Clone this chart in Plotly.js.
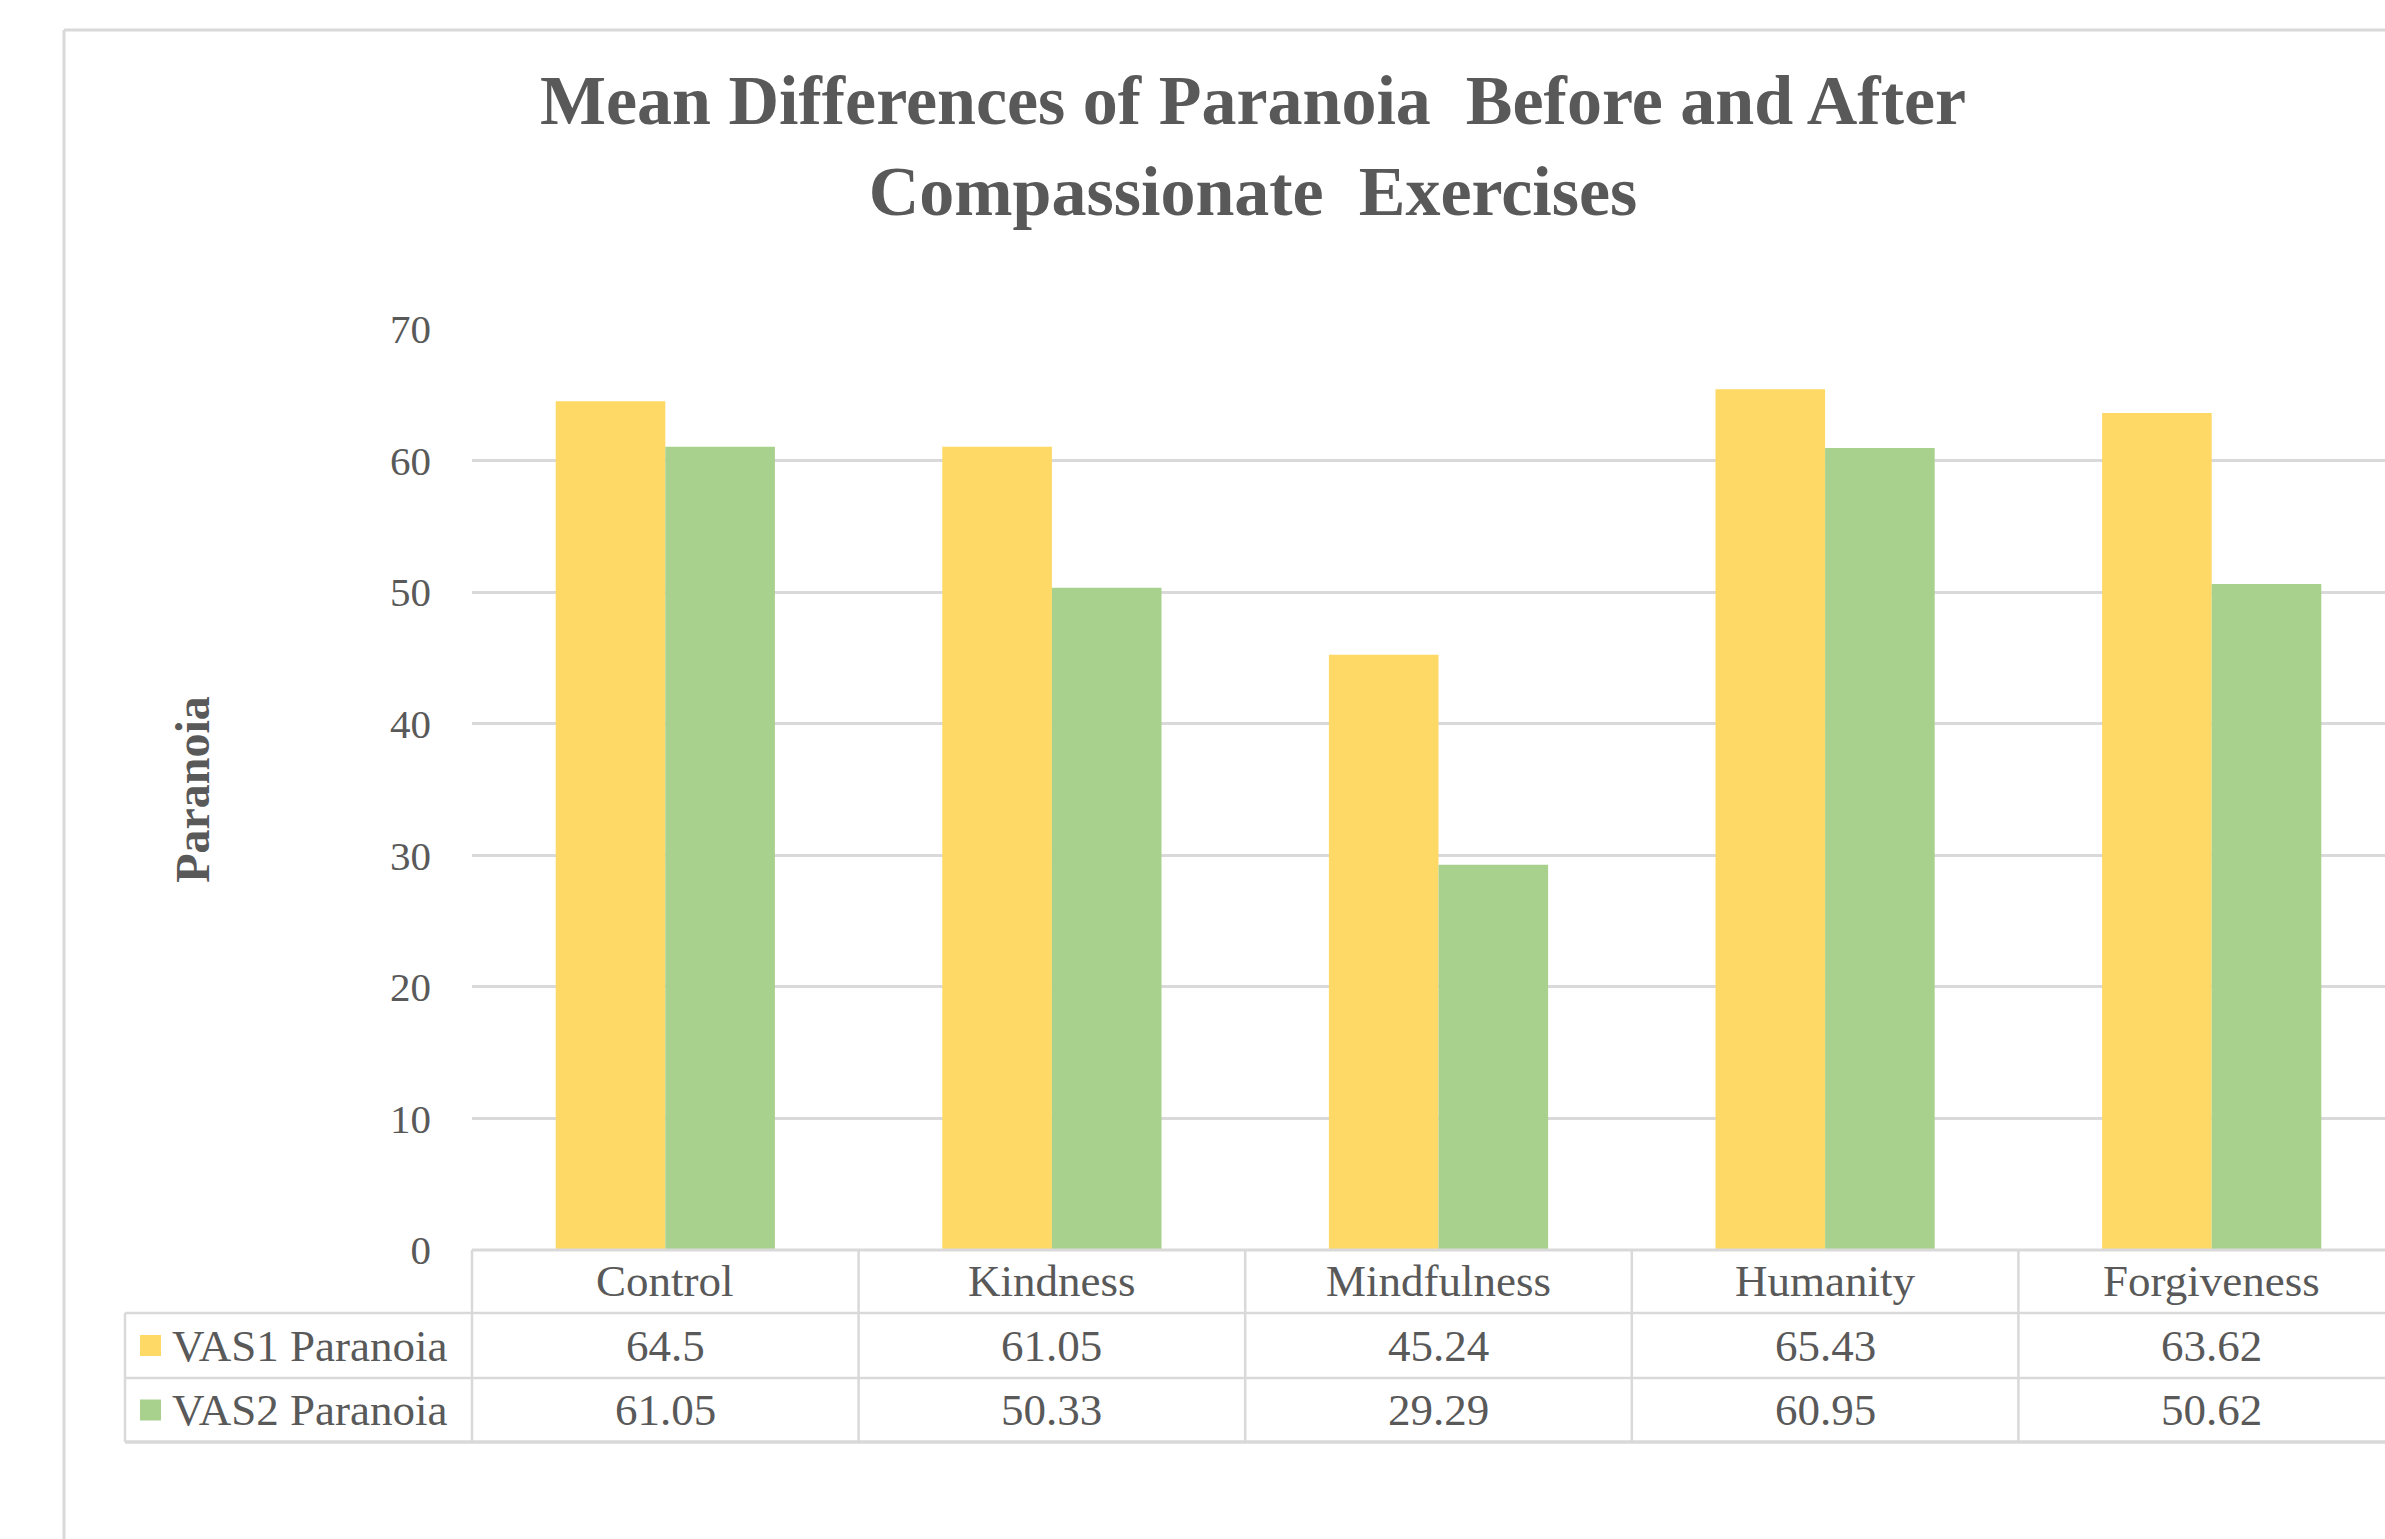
<!DOCTYPE html>
<html>
<head>
<meta charset="utf-8">
<script src="https://cdn.plot.ly/plotly-3.0.1.min.js"></script>
<style>
  html, body { margin: 0; padding: 0; background: #ffffff; overflow: hidden; }
  #chart { width: 2420px; height: 1539px; }
</style>
</head>
<body>
<div id="chart"></div>
<script>
// ---- data ----
const categories = ["Control", "Kindness", "Mindfulness", "Humanity", "Forgiveness"];
const vas1 = [64.5, 61.05, 45.24, 65.43, 63.62];
const vas2 = [61.05, 50.33, 29.29, 60.95, 50.62];
const seriesNames = ["VAS1 Paranoia", "VAS2 Paranoia"];
const yTicks = [0, 10, 20, 30, 40, 50, 60, 70];
const titleText = "Mean Differences of Paranoia  Before and After<br>Compassionate  Exercises";
const yTitle = "Paranoia";

// ---- style / geometry ----
const colors = ["#FFD966", "#A9D18E"];
const textColor = "#595959";
const lineColor = "#D9D9D9";
const fontFam = "'Liberation Serif', 'Times New Roman', serif";
const FW = 2420, FH = 1539;
const ML = 472, MR = 15, MT = 329, MB = 289;
const W = FW - ML - MR, H = FH - MT - MB;
const px = x => (x - ML) / W;           // pixel x -> paper x
const py = y => (MT + H - y) / H;       // pixel y -> paper y

const rowTop = [1250, 1313, 1378, 1442];  // header, row1, row2 boundaries
const rowMid = [1281, 1345.5, 1410];
const labelLeft = 125;

const traces = [vas1, vas2].map((vals, i) => ({
  type: "bar",
  name: seriesNames[i],
  x: categories,
  y: vals,
  marker: { color: colors[i], line: { width: 0 } },
  hoverinfo: "x+y+name"
}));

const shapes = [];
const line = (x0, y0, x1, y1, w) => shapes.push({
  type: "line", xref: "paper", yref: "paper", x0, y0, x1, y1,
  line: { color: lineColor, width: w || 2.5 }, layer: "above"
});

// outer chart frame (top and left edges visible)
line(px(64), py(30), 1.1, py(30), 3);
line(px(64), py(30), px(64), py(1600), 3);

// table horizontal lines
line(0, py(rowTop[0]), 1, py(rowTop[0]), 3);
for (let r = 1; r < rowTop.length; r++) {
  line(px(labelLeft), py(rowTop[r]), 1, py(rowTop[r]), r === rowTop.length - 1 ? 3.5 : 2.5);
}
// table vertical lines
line(px(labelLeft), py(rowTop[1]), px(labelLeft), py(rowTop[3]));
for (let k = 0; k <= categories.length; k++) {
  line(k / categories.length, py(rowTop[0]), k / categories.length, py(rowTop[3]));
}
// legend keys
const keyX0 = 140, keyX1 = 161, keyHalf = 10.5;
[0, 1].forEach(i => {
  shapes.push({
    type: "rect", xref: "paper", yref: "paper",
    x0: px(keyX0), x1: px(keyX1),
    y0: py(rowMid[i + 1] + keyHalf), y1: py(rowMid[i + 1] - keyHalf),
    fillcolor: colors[i], line: { width: 0 }, layer: "above"
  });
});

const annotations = [];
const cellFont = { family: fontFam, size: 45, color: textColor };
categories.forEach((c, j) => {
  annotations.push({ xref: "x", yref: "paper", x: c, y: py(rowMid[0]), text: c,
    showarrow: false, xanchor: "center", yanchor: "middle", font: cellFont });
  [vas1, vas2].forEach((vals, i) => {
    annotations.push({ xref: "x", yref: "paper", x: c, y: py(rowMid[i + 1]), text: String(vals[j]),
      showarrow: false, xanchor: "center", yanchor: "middle", font: cellFont });
  });
});
seriesNames.forEach((n, i) => {
  annotations.push({ xref: "paper", yref: "paper", x: px(170), y: py(rowMid[i + 1]), text: n,
    showarrow: false, xanchor: "left", yanchor: "middle", font: cellFont });
});

const layout = {
  width: FW, height: FH,
  margin: { l: ML, r: MR, t: MT, b: MB, pad: 0 },
  paper_bgcolor: "#ffffff", plot_bgcolor: "#ffffff",
  showlegend: false,
  barmode: "group", bargap: 0.433, bargroupgap: 0,
  font: { family: fontFam, color: textColor },
  title: {
    text: titleText,
    font: { family: fontFam, size: 70, color: textColor, weight: "bold" },
    xref: "container", x: 1253 / FW, xanchor: "center",
    yref: "container", y: 1 - 124 / FH, yanchor: "top"
  },
  xaxis: {
    type: "category", showticklabels: false, ticks: "",
    showgrid: false, zeroline: false, showline: false, fixedrange: true
  },
  yaxis: {
    range: [0, 70], tickvals: yTicks, ticktext: yTicks.map(String),
    showgrid: true, gridcolor: lineColor, gridwidth: 2.5,
    zeroline: false, showline: false, ticks: "",
    ticklabelstandoff: 40,
    tickfont: { family: fontFam, size: 41, color: textColor },
    title: { text: yTitle, standoff: 165,
      font: { family: fontFam, size: 48, color: textColor, weight: "bold" } },
    automargin: false, fixedrange: true
  },
  shapes, annotations
};

Plotly.newPlot("chart", traces, layout, { displayModeBar: false, responsive: false });
</script>
</body>
</html>
